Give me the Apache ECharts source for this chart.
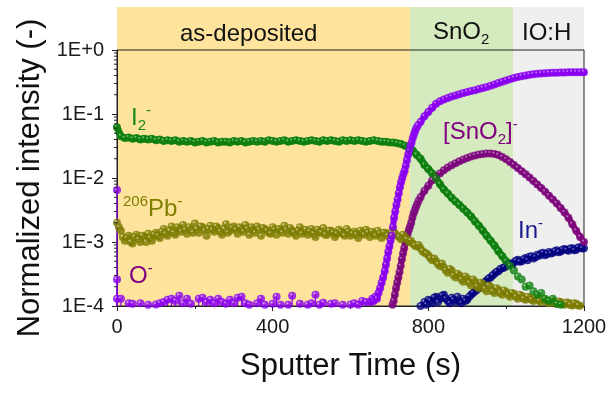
<!DOCTYPE html>
<html>
<head>
<meta charset="utf-8">
<script src="https://cdn.jsdelivr.net/npm/echarts@6/dist/echarts.min.js"></script>
<style>
html, body { margin: 0; padding: 0; background: #fff; }
#chart { width: 614px; height: 394px; }
</style>
</head>
<body>
<div id="chart"></div>
<script>
var FF = '"Liberation Sans", Arial, sans-serif';

// sputter time grid (s)
var timeS = [
  0, 10, 20, 30, 40, 50, 60, 70, 80, 90,
  100, 110, 120, 130, 140, 150, 160, 170, 180, 190,
  200, 210, 220, 230, 240, 250, 260, 270, 280, 290,
  300, 310, 320, 330, 340, 350, 360, 370, 380, 390,
  400, 410, 420, 430, 440, 450, 460, 470, 480, 490,
  500, 510, 520, 530, 540, 550, 560, 570, 580, 590,
  600, 610, 620, 630, 640, 650, 660, 670, 680, 690,
  700, 710, 720, 730, 740, 750, 760, 770, 780, 790,
  800, 810, 820, 830, 840, 850, 860, 870, 880, 890,
  900, 910, 920, 930, 940, 950, 960, 970, 980, 990,
  1000, 1010, 1020, 1030, 1040, 1050, 1060, 1070, 1080, 1090,
  1100, 1110, 1120, 1130, 1140, 1150, 1160, 1170, 1180, 1190,
  1200
];
// in-between cycles (s), used for the noisier Pb signal
var timeHalf = [
  5, 15, 25, 35, 45, 55, 65, 75, 85, 95,
  105, 115, 125, 135, 145, 155, 165, 175, 185, 195,
  205, 215, 225, 235, 245, 255, 265, 275, 285, 295,
  305, 315, 325, 335, 345, 355, 365, 375, 385, 395,
  405, 415, 425, 435, 445, 455, 465, 475, 485, 495,
  505, 515, 525, 535, 545, 555, 565, 575, 585, 595,
  605, 615, 625, 635, 645, 655, 665, 675, 685, 695,
  705, 715, 725, 735, 745, 755, 765, 775, 785, 795,
  805, 815, 825, 835, 845, 855, 865, 875, 885, 895,
  905, 915, 925, 935, 945, 955, 965, 975, 985, 995,
  1005, 1015, 1025, 1035, 1045, 1055, 1065, 1075, 1085, 1095,
  1105, 1115, 1125, 1135, 1145, 1155, 1165, 1175, 1185, 1195
];

var i2Vals = [
  0.062, 0.045, 0.042, 0.043, 0.041, 0.042, 0.040, 0.041, 0.040, 0.041,
  0.039, 0.040, 0.038, 0.039, 0.038, 0.039, 0.037, 0.038, 0.037, 0.038,
  0.036, 0.037, 0.038, 0.036, 0.037, 0.038, 0.036, 0.037, 0.037, 0.036,
  0.038, 0.037, 0.038, 0.036, 0.037, 0.038, 0.037, 0.038, 0.037, 0.039,
  0.038, 0.037, 0.038, 0.039, 0.037, 0.038, 0.039, 0.038, 0.037, 0.038,
  0.039, 0.038, 0.037, 0.039, 0.038, 0.039, 0.038, 0.037, 0.039, 0.038,
  0.039, 0.038, 0.039, 0.038, 0.037, 0.038, 0.039, 0.038, 0.037, 0.037,
  0.036, 0.036, 0.035, 0.034, 0.032, 0.030, 0.027, 0.023, 0.020, 0.016,
  0.0138, 0.0118, 0.0098, 0.0080, 0.0066, 0.0057, 0.0049, 0.0043, 0.0038, 0.0033,
  0.0029, 0.0025, 0.0021, 0.0018, 0.0015, 0.00125, 0.00105, 0.00088, 0.00072, 0.00060,
  0.00050, 0.00042, 0.00036, 0.00029, 0.00026, 0.00020, 0.00021, 0.00017, 0.00015, 0.00016,
  0.00013, 0.00012, 0.00013, 0.000108, 0.000105, null, null, null, null, null,
  null
];

var pbVals = [
  2.0e-3, 1.5e-3, 1.05e-3, 1.25e-3, 0.95e-3, 1.3e-3, 1.0e-3, 1.2e-3, 1.35e-3, 1.05e-3,
  1.4e-3, 1.15e-3, 1.6e-3, 1.25e-3, 1.75e-3, 1.3e-3, 1.6e-3, 1.85e-3, 1.35e-3, 1.55e-3,
  1.95e-3, 1.4e-3, 1.7e-3, 1.25e-3, 1.8e-3, 1.45e-3, 1.65e-3, 1.3e-3, 1.9e-3, 1.5e-3,
  1.75e-3, 1.35e-3, 1.6e-3, 1.85e-3, 1.3e-3, 1.55e-3, 1.75e-3, 1.25e-3, 1.6e-3, 1.4e-3,
  1.7e-3, 1.3e-3, 1.55e-3, 1.8e-3, 1.35e-3, 1.5e-3, 1.25e-3, 1.7e-3, 1.45e-3, 1.3e-3,
  1.6e-3, 1.2e-3, 1.45e-3, 1.65e-3, 1.3e-3, 1.5e-3, 1.2e-3, 1.55e-3, 1.35e-3, 1.6e-3,
  1.25e-3, 1.45e-3, 1.15e-3, 1.4e-3, 1.55e-3, 1.2e-3, 1.35e-3, 1.5e-3, 1.15e-3, 1.4e-3,
  1.3e-3, 1.5e-3, 1.25e-3, 1.1e-3, 1.2e-3, 1.0e-3, 0.95e-3, 0.85e-3, 0.8e-3, 0.68e-3,
  0.62e-3, 0.52e-3, 0.5e-3, 0.42e-3, 0.4e-3, 0.33e-3, 0.36e-3, 0.28e-3, 0.3e-3, 0.24e-3,
  0.27e-3, 0.21e-3, 0.24e-3, 0.19e-3, 0.22e-3, 0.17e-3, 0.2e-3, 0.16e-3, 0.18e-3, 0.15e-3,
  0.165e-3, 0.14e-3, 0.155e-3, 0.13e-3, 0.145e-3, 0.125e-3, 0.135e-3, 0.12e-3, 0.13e-3, 0.115e-3,
  0.125e-3, 0.11e-3, 0.12e-3, 0.108e-3, 0.115e-3, 0.105e-3, 0.112e-3, 0.102e-3, 0.108e-3, 0.101e-3,
  null
];
var pbValsB = [
  1.7e-3, 1.2e-3, 1.15e-3, 1.0e-3, 1.2e-3, 1.1e-3, 1.25e-3, 1.0e-3, 1.15e-3, 1.3e-3,
  1.25e-3, 1.45e-3, 1.35e-3, 1.5e-3, 1.4e-3, 1.7e-3, 1.45e-3, 1.55e-3, 1.7e-3, 1.4e-3,
  1.6e-3, 1.75e-3, 1.5e-3, 1.6e-3, 1.55e-3, 1.75e-3, 1.45e-3, 1.6e-3, 1.4e-3, 1.65e-3,
  1.55e-3, 1.7e-3, 1.45e-3, 1.6e-3, 1.7e-3, 1.4e-3, 1.55e-3, 1.65e-3, 1.5e-3, 1.35e-3,
  1.55e-3, 1.6e-3, 1.4e-3, 1.55e-3, 1.65e-3, 1.4e-3, 1.5e-3, 1.35e-3, 1.55e-3, 1.45e-3,
  1.35e-3, 1.55e-3, 1.4e-3, 1.3e-3, 1.5e-3, 1.4e-3, 1.35e-3, 1.45e-3, 1.25e-3, 1.45e-3,
  1.35e-3, 1.3e-3, 1.5e-3, 1.3e-3, 1.4e-3, 1.45e-3, 1.25e-3, 1.35e-3, 1.4e-3, 1.25e-3,
  1.4e-3, 1.35e-3, 1.2e-3, 1.3e-3, 1.1e-3, 1.05e-3, 0.88e-3, 0.9e-3, 0.72e-3, 0.66e-3,
  0.56e-3, 0.55e-3, 0.45e-3, 0.46e-3, 0.36e-3, 0.38e-3, 0.3e-3, 0.32e-3, 0.26e-3, 0.29e-3,
  0.23e-3, 0.26e-3, 0.2e-3, 0.23e-3, 0.185e-3, 0.21e-3, 0.17e-3, 0.19e-3, 0.16e-3, 0.175e-3,
  0.15e-3, 0.16e-3, 0.14e-3, 0.15e-3, 0.13e-3, 0.14e-3, 0.125e-3, 0.135e-3, 0.12e-3, 0.128e-3,
  0.115e-3, 0.122e-3, 0.11e-3, 0.118e-3, 0.107e-3, 0.113e-3, 0.104e-3, 0.11e-3, 0.102e-3, null
];

var oVals = [
  null, 1.3e-4, null, 1.1e-4, 1.08e-4, null, 1.1e-4, null, 1.05e-4, null,
  1.06e-4, 1.1e-4, 1.15e-4, 1.25e-4, 1.3e-4, 1.2e-4, 1.45e-4, 1.1e-4, 1.3e-4, 1.08e-4,
  null, 1.3e-4, 1.35e-4, 1.15e-4, 1.25e-4, 1.1e-4, 1.3e-4, 1.15e-4, 1.08e-4, 1.25e-4,
  1.1e-4, 1.35e-4, 1.4e-4, 1.1e-4, 1.05e-4, null, 1.1e-4, 1.3e-4, 1.05e-4, null,
  1.08e-4, 1.4e-4, 1.05e-4, null, 1.05e-4, 1.45e-4, null, 1.08e-4, null, 1.05e-4,
  1.1e-4, 1.5e-4, 1.05e-4, 1.12e-4, null, 1.08e-4, 1.1e-4, null, 1.05e-4, null,
  1.06e-4, 1.1e-4, 1.05e-4, 1.2e-4, 1.15e-4, null, null, null, null, null,
  null, null, null, null, null, null, null, null, 0.075, 0.092,
  0.107, 0.125, 0.145, 0.158, 0.168, 0.178, 0.187, 0.195, 0.203, 0.212,
  0.22, 0.228, 0.236, 0.245, 0.254, 0.263, 0.276, 0.29, 0.305, 0.32,
  0.335, 0.35, 0.365, 0.378, 0.39, 0.40, 0.41, 0.418, 0.424, 0.429,
  0.433, 0.437, 0.44, 0.443, 0.445, 0.447, 0.448, 0.449, 0.45, 0.45,
  0.451
];
// O- points at the very first cycle and along the steep rise
var oStart = [[0, 6.5e-3], [0, 2.6e-4], [0, 1.3e-4]];
var oRise = [
  [652, 1.15e-4], [656, 1.3e-4], [660, 1.2e-4], [664, 1.4e-4], [668, 1.3e-4],
  [672, 1.6e-4], [676, 1.9e-4], [680, 2.3e-4], [684, 2.8e-4], [688, 3.5e-4],
  [691, 4.4e-4], [694, 5.5e-4], [697, 7.0e-4], [700, 8.5e-4], [703, 1.05e-3],
  [706, 1.25e-3], [709, 1.7e-3], [712, 2.4e-3], [715, 3.0e-3], [718, 3.8e-3],
  [721, 4.6e-3], [724, 5.8e-3], [727, 7.2e-3], [730, 8.6e-3], [733, 1.0e-2],
  [736, 1.15e-2], [739, 1.3e-2], [742, 1.55e-2], [745, 1.9e-2], [748, 2.3e-2],
  [751, 2.7e-2], [754, 3.2e-2], [757, 3.6e-2], [760, 4.2e-2], [763, 4.8e-2],
  [766, 5.4e-2], [769, 6.0e-2], [773, 6.6e-2]
];

var snoVals = [
  null, null, null, null, null, null, null, null, null, null,
  null, null, null, null, null, null, null, null, null, null,
  null, null, null, null, null, null, null, null, null, null,
  null, null, null, null, null, null, null, null, null, null,
  null, null, null, null, null, null, null, null, null, null,
  null, null, null, null, null, null, null, null, null, null,
  null, null, null, null, null, null, null, null, null, null,
  null, null, null, null, null, null, null, null, 0.0050, 0.0063,
  0.0076, 0.0092, 0.0106, 0.0118, 0.0132, 0.0146, 0.0158, 0.0170, 0.0182, 0.0195,
  0.0206, 0.0216, 0.0225, 0.0232, 0.0238, 0.0242, 0.0242, 0.0238, 0.0228, 0.0212,
  0.0196, 0.0178, 0.0160, 0.0143, 0.0128, 0.0114, 0.0102, 0.0090, 0.0079, 0.0070,
  0.0061, 0.0053, 0.0046, 0.0040, 0.0034, 0.0029, 0.0024, 0.0019, 0.0015, 0.0012,
  0.0010
];
var snoRise = [
  [708, 1.05e-4], [711, 1.2e-4], [714, 1.5e-4], [717, 1.9e-4], [720, 2.3e-4],
  [723, 2.8e-4], [726, 3.4e-4], [729, 4.2e-4], [732, 5.4e-4], [735, 6.6e-4],
  [738, 8.0e-4], [741, 9.8e-4], [744, 1.15e-3], [747, 1.35e-3], [750, 1.55e-3],
  [753, 1.75e-3], [756, 2.0e-3], [759, 2.4e-3], [762, 2.8e-3], [765, 3.1e-3],
  [768, 3.5e-3], [771, 3.9e-3], [775, 4.4e-3]
];

var inVals = [
  null, null, null, null, null, null, null, null, null, null,
  null, null, null, null, null, null, null, null, null, null,
  null, null, null, null, null, null, null, null, null, null,
  null, null, null, null, null, null, null, null, null, null,
  null, null, null, null, null, null, null, null, null, null,
  null, null, null, null, null, null, null, null, null, null,
  null, null, null, null, null, null, null, null, null, null,
  null, null, null, null, null, null, null, null, 1.0e-4, 1.15e-4,
  1.25e-4, 1.1e-4, 1.4e-4, 1.3e-4, 1.5e-4, 1.2e-4, 1.35e-4, 1.15e-4, 1.2e-4, 1.3e-4,
  1.25e-4, 1.5e-4, 1.7e-4, 1.9e-4, 2.2e-4, 2.5e-4, 2.8e-4, 3.2e-4, 3.5e-4, 3.9e-4,
  4.2e-4, 4.6e-4, 4.8e-4, 5.3e-4, 5.0e-4, 5.6e-4, 5.9e-4, 5.5e-4, 6.3e-4, 6.6e-4,
  6.2e-4, 7.0e-4, 6.8e-4, 7.4e-4, 7.1e-4, 7.8e-4, 7.3e-4, 8.0e-4, 7.6e-4, 8.3e-4,
  8.0e-4
];
var inExtra = [
  [795, 1.05e-4], [805, 1.2e-4], [815, 1.35e-4], [825, 1.15e-4], [835, 1.45e-4],
  [845, 1.3e-4], [855, 1.1e-4], [865, 1.25e-4], [875, 1.4e-4], [885, 1.1e-4],
  [895, 1.2e-4], [905, 1.4e-4], [915, 1.6e-4], [925, 1.8e-4], [935, 2.1e-4],
  [945, 2.35e-4], [955, 2.7e-4], [965, 3.0e-4], [975, 3.4e-4], [985, 3.8e-4],
  [995, 4.0e-4], [1005, 4.5e-4], [1015, 4.3e-4], [1025, 5.1e-4], [1035, 4.9e-4],
  [1045, 5.4e-4], [1055, 5.2e-4], [1065, 6.0e-4], [1075, 5.8e-4], [1085, 6.1e-4],
  [1095, 6.8e-4], [1105, 6.5e-4], [1115, 6.6e-4], [1125, 7.2e-4], [1135, 6.9e-4],
  [1145, 7.6e-4], [1155, 7.5e-4], [1165, 7.9e-4], [1175, 7.4e-4], [1185, 8.2e-4],
  [1195, 7.9e-4]
];

// layer boundaries (s)
var bandEdges = [0, 753, 1018, 1200];
var bandColors = ['#fee39d', '#d6eabf', '#efefef'];

var yTickLabels = ['1E-4', '1E-3', '1E-2', '1E-1', '1E+0'];
var yMinorTicks = [
  2e-4, 3e-4, 4e-4, 5e-4, 6e-4, 7e-4, 8e-4, 9e-4,
  2e-3, 3e-3, 4e-3, 5e-3, 6e-3, 7e-3, 8e-3, 9e-3,
  2e-2, 3e-2, 4e-2, 5e-2, 6e-2, 7e-2, 8e-2, 9e-2,
  2e-1, 3e-1, 4e-1, 5e-1, 6e-1, 7e-1, 8e-1, 9e-1
];

function pairs(vals, times) {
  times = times || timeS;
  var out = [];
  for (var i = 0; i < times.length; i++) {
    if (vals[i] != null) out.push([times[i], vals[i]]);
  }
  return out;
}

// dark ball with a small specular spot, like the original markers
function sphere(dark, light) {
  return {
    type: 'radial', x: 0.36, y: 0.32, r: 0.7,
    colorStops: [
      { offset: 0, color: light },
      { offset: 0.28, color: dark },
      { offset: 1, color: dark }
    ]
  };
}

function dots(name, data, dark, light, size) {
  return {
    name: name,
    type: 'scatter',
    data: data,
    symbol: 'circle',
    symbolSize: size || 7,
    silent: true,
    z: 3,
    itemStyle: { color: sphere(dark, light) }
  };
}
// dense acquisition: the overlapping balls read as a solid band
function band(data, color, width) {
  return {
    type: 'line',
    data: data,
    showSymbol: false,
    silent: true,
    z: 2,
    lineStyle: { color: color, width: width, cap: 'round', join: 'round' }
  };
}

var i2Data = pairs(i2Vals);
var snoData = snoRise.concat(pairs(snoVals));
var oHigh = oRise.concat(pairs(oVals).filter(function (p) { return p[0] > 700; }));
var oLow = oStart.concat(pairs(oVals).filter(function (p) { return p[0] < 650; }));

var chartDom = document.getElementById('chart');
var myChart = echarts.init(chartDom, null, { renderer: 'canvas' });

var option = {
  animation: false,
  backgroundColor: '#fff',
  grid: {
    left: 117, right: 30, top: 50, bottom: 88,
    show: true, borderColor: '#222', borderWidth: 1,
    backgroundColor: 'transparent',
    outerBoundsMode: 'none'
  },
  xAxis: {
    type: 'value',
    min: 0, max: 1200, interval: 400,
    name: 'Sputter Time (s)',
    nameLocation: 'middle',
    nameGap: 45,
    nameTextStyle: { fontSize: 31, color: '#111', fontFamily: FF },
    axisLine: { lineStyle: { color: '#222', width: 1 } },
    axisTick: { show: true, inside: false, length: 5, lineStyle: { color: '#222' } },
    minorTick: { show: true, splitNumber: 2, length: 3, lineStyle: { color: '#222' } },
    splitLine: { show: false },
    axisLabel: {
      fontSize: 20, color: '#1a1a1a', fontFamily: FF, margin: 11,
      showMinLabel: true, showMaxLabel: true,
      formatter: function (v) { return String(v); }
    }
  },
  yAxis: {
    type: 'log',
    logBase: 10,
    min: 1e-4, max: 1,
    name: 'Normalized intensity (-)',
    nameLocation: 'middle',
    nameGap: 70,
    nameTextStyle: { fontSize: 31, color: '#111', fontFamily: FF },
    axisLine: { show: true, lineStyle: { color: '#222', width: 1 } },
    axisTick: { show: true, inside: false, length: 5, lineStyle: { color: '#222' } },
    splitLine: { show: false },
    axisLabel: {
      fontSize: 20, color: '#1a1a1a', fontFamily: FF, margin: 13,
      showMinLabel: true, showMaxLabel: true,
      formatter: function (v, i) { return yTickLabels[i]; }
    }
  },
  series: [
    dots('In-', pairs(inVals).concat(inExtra), '#00007e', '#a0a0e8', 8),
    band(snoData, '#7c087c', 6),
    dots('[SnO2]-', snoData, '#7c087c', '#e0a8e0', 8),
    dots('206Pb-', pairs(pbVals).concat(pairs(pbValsB, timeHalf)), '#7b7b00', '#e6e6b0', 8),
    band(i2Data.filter(function (p) { return p[0] <= 1000; }), '#0f800f', 7),
    dots('I2-', i2Data, '#0f800f', '#9ee09e', 8),
    {
      name: 'O- stems',
      type: 'custom',
      silent: true,
      data: oLow,
      renderItem: function (params, api) {
        var p = api.coord([api.value(0), api.value(1)]);
        var b = api.coord([api.value(0), 1e-4]);
        return {
          type: 'line',
          shape: { x1: p[0], y1: p[1], x2: b[0], y2: b[1] },
          style: { stroke: '#8a00f0', lineWidth: 1.2 }
        };
      },
      z: 3
    },
    band(oHigh, '#8a00f0', 6),
    dots('O-', oStart.concat(pairs(oVals), oRise), '#8a00f0', '#e2c0ff', 8),
    {
      name: 'minor',
      type: 'custom',
      silent: true,
      clip: false,
      data: yMinorTicks.map(function (v) { return [0, v]; }),
      renderItem: function (params, api) {
        var p = api.coord([api.value(0), api.value(1)]);
        return {
          type: 'line',
          shape: { x1: p[0] - 3, y1: p[1], x2: p[0], y2: p[1] },
          style: { stroke: '#222', lineWidth: 1 }
        };
      },
      z: 4
    }
  ]
};

myChart.setOption(option);

// layer bands and labels, positioned through the chart's own scales
var xPix = bandEdges.map(function (t) { return myChart.convertToPixel({ xAxisIndex: 0 }, t); });
var yBot = myChart.convertToPixel({ yAxisIndex: 0 }, 1e-4);
var bandTop = 7;

function label(txt, rich, left, top) {
  return {
    type: 'text', z: 20, silent: true,
    style: { text: txt, rich: rich, x: left, y: top, align: 'left', verticalAlign: 'top' }
  };
}
function richSet(color) {
  return {
    m: { fontSize: 24, fontFamily: FF, fill: color, lineHeight: 30 },
    sub: { fontSize: 15, fontFamily: FF, fill: color, lineHeight: 20, verticalAlign: 'bottom' },
    sup: { fontSize: 15, fontFamily: FF, fill: color, lineHeight: 16, verticalAlign: 'top' }
  };
}

var elements = [];
for (var i = 0; i < bandColors.length; i++) {
  elements.push({
    type: 'rect', z: -5, silent: true,
    shape: { x: xPix[i], y: bandTop, width: xPix[i + 1] - xPix[i], height: yBot - bandTop },
    style: { fill: bandColors[i] }
  });
}
var black = richSet('#111');
elements.push(label('{m|as-deposited}', black, 180, 19));
elements.push(label('{m|SnO}{sub|2}', black, 433, 17));
elements.push(label('{m|IO:H}', black, 522, 18));
elements.push(label('{m|I}{sub|2}{sup|-}', richSet('#1b8a1b'), 131, 103));
elements.push(label('{sup|206}{m|Pb}{sup|-}', richSet('#7f7f00'), 123, 194));
elements.push(label('{m|O}{sup|-}', richSet('#800080'), 129, 261));
elements.push(label('{m|[SnO}{sub|2}{m|]}{sup|-}', richSet('#800080'), 443, 117));
elements.push(label('{m|In}{sup|-}', richSet('#1a1a8c'), 518, 216));

myChart.setOption({ graphic: { elements: elements } });
window.addEventListener('resize', myChart.resize);
</script>
</body>
</html>
